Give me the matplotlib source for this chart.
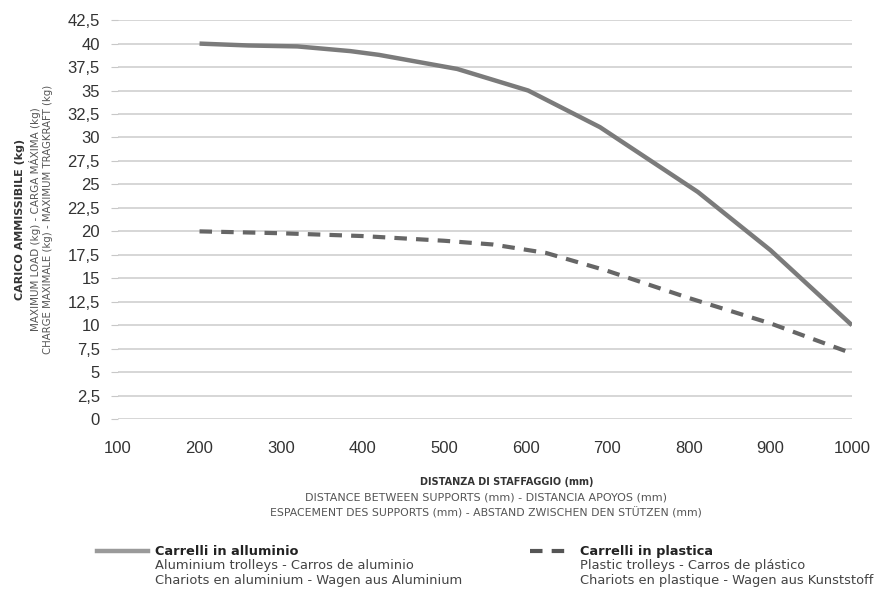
import matplotlib.pyplot as plt
from matplotlib.lines import Line2D

# distance between supports (mm) and admissible load (kg)
dist_alu = [200, 260, 320, 385, 420, 516, 603, 691, 811, 900, 1000]
load_alu = [40.0, 39.8, 39.7, 39.2, 38.8, 37.3, 35.0, 31.1, 24.2, 18.0, 10.0]

dist_pla = [200, 300, 400, 500, 560, 625, 700, 800, 900, 1000]
load_pla = [20.0, 19.8, 19.5, 19.0, 18.6, 17.7, 15.8, 12.9, 10.2, 7.0]

yticks = [i * 2.5 for i in range(18)]
ytick_labels = [("%g" % v).replace(".", ",") for v in yticks]
xticks = list(range(100, 1001, 100))

line_col = "#7b7b7b"
dash_col = "#666666"
text_col = "#333333"
font = "Liberation Sans"

fig = plt.figure(figsize=(8.87, 5.92), dpi=100)
ax = fig.add_axes([0.133, 0.292, 0.8275, 0.674])

ax.plot(dist_alu, load_alu, color=line_col, lw=3.2, solid_capstyle="butt")
ax.plot(dist_pla, load_pla, color=dash_col, lw=3.0, ls=(0, (3.0, 2.2)))

ax.set_xlim(100, 1000)
ax.set_ylim(0, 42.5)
ax.set_yticks(yticks)
ax.set_yticklabels(ytick_labels)
ax.set_xticks(xticks)
ax.grid(axis="y", color="#d0d0d0", lw=1.2)
ax.set_axisbelow(True)
for s in ax.spines.values():
    s.set_visible(False)
ax.tick_params(axis="y", length=5, color="#c8c8c8", labelsize=12, labelcolor=text_col, pad=8)
ax.tick_params(axis="x", length=0, labelsize=12, labelcolor=text_col, pad=16)
for lbl in ax.get_xticklabels() + ax.get_yticklabels():
    lbl.set_family(font)

# y axis title, three lines
fig.text(0.022, 0.630, "CARICO AMMISSIBILE (kg)", rotation=90, ha="center", va="center",
         fontsize=8, fontweight="bold", color=text_col)
fig.text(0.040, 0.630, "MAXIMUM LOAD (kg) - CARGA MÁXIMA (kg)", rotation=90, ha="center",
         va="center", fontsize=7.5, color="#555555")
fig.text(0.054, 0.630, "CHARGE MAXIMALE (kg) - MAXIMUM TRAGKRAFT (kg)", rotation=90,
         ha="center", va="center", fontsize=7.3, color="#555555")

# x axis title, three lines
fig.text(0.571, 0.186, "DISTANZA DI STAFFAGGIO (mm)", ha="center", va="center",
         fontsize=7, fontweight="bold", color=text_col)
fig.text(0.548, 0.160, "DISTANCE BETWEEN SUPPORTS (mm) - DISTANCIA APOYOS (mm)",
         ha="center", va="center", fontsize=8, color="#555555")
fig.text(0.548, 0.133, "ESPACEMENT DES SUPPORTS (mm) - ABSTAND ZWISCHEN DEN STÜTZEN (mm)",
         ha="center", va="center", fontsize=7.8, color="#555555")

# legend drawn by hand
fig.add_artist(Line2D([0.109, 0.167], [0.069, 0.069], color="#9a9a9a", lw=3.2))
fig.add_artist(Line2D([0.598, 0.643], [0.069, 0.069], color="#555555", lw=3.0,
                      ls=(0, (3.0, 2.2))))
legend_text = [
    (0.175, ["Carrelli in alluminio", "Aluminium trolleys - Carros de aluminio",
             "Chariots en aluminium - Wagen aus Aluminium"]),
    (0.654, ["Carrelli in plastica", "Plastic trolleys - Carros de plástico",
             "Chariots en plastique - Wagen aus Kunststoff"]),
]
for x0, lines in legend_text:
    fig.text(x0, 0.069, lines[0], ha="left", va="center", fontsize=9.3,
             fontweight="bold", color="#222222")
    fig.text(x0, 0.044, lines[1], ha="left", va="center", fontsize=9.4, color="#444444")
    fig.text(x0, 0.019, lines[2], ha="left", va="center", fontsize=9.4, color="#444444")

fig.savefig("out.png", dpi=100)
